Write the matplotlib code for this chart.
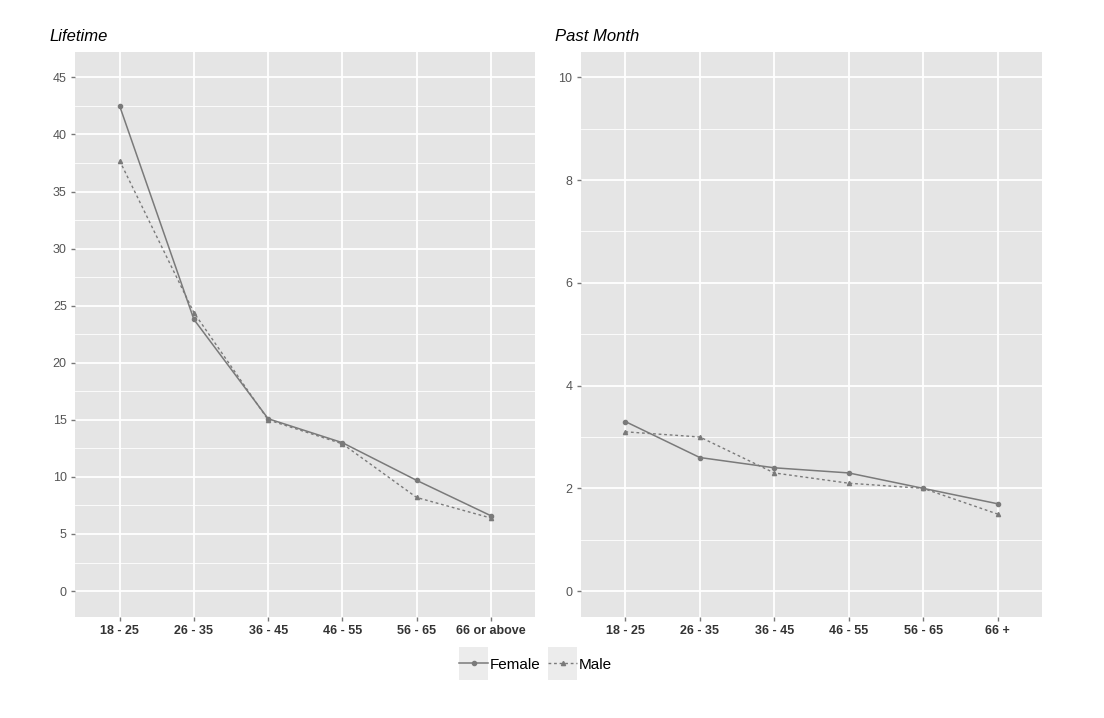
import matplotlib
matplotlib.use("Agg")
from matplotlib import pyplot as plt
from matplotlib.lines import Line2D
from matplotlib.patches import Rectangle
from matplotlib.legend_handler import HandlerLine2D

plt.rcParams['font.family'] = ['Liberation Sans', 'DejaVu Sans']

# data
life_groups = ["18 - 25", "26 - 35", "36 - 45", "46 - 55", "56 - 65", "66 or above"]
month_groups = ["18 - 25", "26 - 35", "36 - 45", "46 - 55", "56 - 65", "66 +"]
life_female = [42.5, 23.8, 15.1, 13.0, 9.7, 6.6]
life_male = [37.7, 24.4, 15.0, 12.9, 8.2, 6.4]
month_female = [3.3, 2.6, 2.4, 2.3, 2.0, 1.7]
month_male = [3.1, 3.0, 2.3, 2.1, 2.0, 1.5]
life_ticks = [0, 5, 10, 15, 20, 25, 30, 35, 40, 45]
month_ticks = [0, 2, 4, 6, 8, 10]

line_col = "#7a7a7a"
bg = "#e5e5e5"

fig = plt.figure(figsize=(11.04, 7.18), dpi=100)
ax1 = fig.add_axes([0.068, 0.141, 0.417, 0.787])
ax2 = fig.add_axes([0.526, 0.141, 0.418, 0.787])


# ggplot-like panel
def style_panel(ax, groups, ticks, title):
    ax.set_facecolor(bg)
    for s in ax.spines.values():
        s.set_visible(False)
    n = len(groups)
    ax.set_xlim(-0.6, n - 1 + 0.6)
    top = ticks[-1]
    ax.set_ylim(-top * 0.05, top * 1.05)
    ax.set_xticks(range(n))
    ax.set_xticklabels(groups, fontsize=9, color="#333333", fontweight="bold")
    ax.set_yticks(ticks)
    ax.set_yticklabels([str(t) for t in ticks], fontsize=9, color="#555555")
    step = ticks[1] - ticks[0]
    ax.set_yticks([t + step / 2 for t in ticks[:-1]], minor=True)
    ax.tick_params(axis="both", which="major", length=3, color="#777777", width=1, pad=3)
    ax.tick_params(axis="y", which="minor", length=0)
    ax.grid(True, which="major", color="white", linewidth=1.3)
    ax.grid(True, which="minor", axis="y", color="white", linewidth=0.6)
    ax.set_axisbelow(True)
    ax.set_title(title, loc="left", fontstyle="italic", fontsize=12, x=-0.055, pad=8)


style_panel(ax1, life_groups, life_ticks, "Lifetime")
style_panel(ax2, month_groups, month_ticks, "Past Month")

x = range(len(life_groups))
ax1.plot(x, life_female, color=line_col, linewidth=1.1, marker="o", markersize=3)
ax1.plot(x, life_male, color=line_col, linewidth=1.0, linestyle=(0, (2, 2)), marker="^", markersize=3)
ax2.plot(x, month_female, color=line_col, linewidth=1.1, marker="o", markersize=3)
ax2.plot(x, month_male, color=line_col, linewidth=1.0, linestyle=(0, (2, 2)), marker="^", markersize=3)


# legend key with grey box behind it, centred on the line
class KeyBox(HandlerLine2D):
    def create_artists(self, legend, orig_handle, xdescent, ydescent, width, height, fontsize, trans):
        yd = ydescent + 4
        yc = (height - yd) / 2
        h = fontsize * 2.15
        box = Rectangle((-xdescent, yc - h / 2), width, h, facecolor="#ececec",
                        edgecolor="none", transform=trans)
        arts = super().create_artists(legend, orig_handle, xdescent, yd, width, height,
                                      fontsize, trans)
        return [box] + list(arts)


handles = [
    Line2D([], [], color=line_col, linewidth=1.1, marker="o", markersize=3),
    Line2D([], [], color=line_col, linewidth=1.0, linestyle=(0, (2, 2)), marker="^", markersize=3),
]
fig.legend(handles, ["Female", "Male"], loc="center", bbox_to_anchor=(0.485, 0.075),
           ncol=2, frameon=False, fontsize=11, handlelength=1.9, handleheight=2.1,
           handletextpad=0.1, columnspacing=0.5,
           handler_map={Line2D: KeyBox(numpoints=1)})

fig.savefig("out.png", dpi=100)
